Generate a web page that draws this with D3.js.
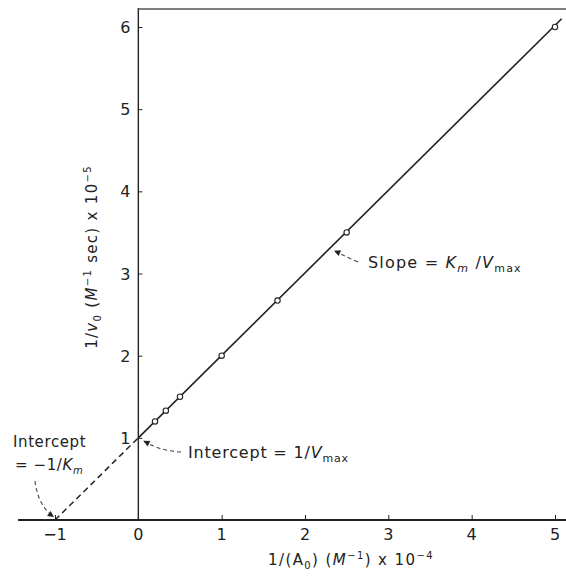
<!DOCTYPE html>
<html><head><meta charset="utf-8">
<script src="https://cdn.jsdelivr.net/npm/d3@7"></script>
<style>
body{margin:0;background:#fff;}
svg text{font-family:"DejaVu Sans","Liberation Sans",sans-serif;fill:#222;}
</style></head>
<body><svg id="c" width="566" height="579"></svg>
<script>
const xs = [0.2, 0.33, 0.5, 1.0, 1.67, 2.5, 5.0];
const ys = [1.2, 1.33, 1.5, 2.0, 2.67, 3.5, 6.0];
const xTicks = [-1, 0, 1, 2, 3, 4, 5];
const yTicks = [1, 2, 3, 4, 5, 6];
const fitLine = [[0, 1], [5.08, 6.1]];
const extrap = [[-1, 0], [0, 1]];

const svg = d3.select("#c");
const x = d3.scaleLinear().domain([-1, 5]).range([55, 555]);
const y = d3.scaleLinear().domain([0, 6]).range([520, 27]);
const ink = "#222";

// x axis line
svg.append("line").attr("x1", 18).attr("x2", 566).attr("y1", y(0)).attr("y2", y(0)).attr("stroke", ink).attr("stroke-width", 1.8);
// y axis line
svg.append("line").attr("x1", x(0)).attr("x2", x(0)).attr("y1", y(0)).attr("y2", 8).attr("stroke", ink).attr("stroke-width", 1.4);
// top frame
svg.append("line").attr("x1", x(0)).attr("x2", 566).attr("y1", 9).attr("y2", 9).attr("stroke", "#555").attr("stroke-width", 1.4);

// x ticks (inward)
const xa = svg.append("g").attr("transform", `translate(0,${y(0)})`)
  .call(d3.axisTop(x).tickValues(xTicks.filter(d => d !== 0)).tickSize(5).tickFormat(""));
xa.select(".domain").remove();
xa.selectAll("line").attr("stroke", ink);
svg.selectAll(".xl").data(xTicks).join("text").attr("class", "xl")
  .attr("x", d => x(d)).attr("y", y(0) + 20).attr("text-anchor", "middle")
  .attr("font-size", 16).text(d => d < 0 ? "\u2212" + Math.abs(d) : d);

// y ticks (inward)
const ya = svg.append("g").attr("transform", `translate(${x(0)},0)`)
  .call(d3.axisRight(y).tickValues(yTicks).tickSize(4).tickFormat(""));
ya.select(".domain").remove();
ya.selectAll("line").attr("stroke", ink);
svg.selectAll(".yl").data(yTicks).join("text").attr("class", "yl")
  .attr("x", x(0) - 8).attr("y", d => y(d) + 6).attr("text-anchor", "end")
  .attr("font-size", 16).text(d => d);

// lines
const ln = d3.line().x(d => x(d[0])).y(d => y(d[1]));
svg.append("path").attr("d", ln(fitLine)).attr("stroke", ink).attr("stroke-width", 1.6).attr("fill", "none");
svg.append("path").attr("d", ln(extrap)).attr("stroke", ink).attr("stroke-width", 1.5).attr("stroke-dasharray", "6,4").attr("fill", "none");

// points
svg.selectAll(".pt").data(xs.map((d, i) => [d, ys[i]])).join("circle").attr("class", "pt")
  .attr("cx", d => x(d[0])).attr("cy", d => y(d[1])).attr("r", 2.7)
  .attr("fill", "#fff").attr("stroke", ink).attr("stroke-width", 1.1);

// axis titles
const yt = svg.append("text").attr("transform", `translate(97,257) rotate(-90)`).attr("text-anchor", "middle").attr("font-size", 15).attr("letter-spacing", 1.3);
yt.append("tspan").text("1/");
yt.append("tspan").attr("font-style", "italic").text("v");
yt.append("tspan").attr("font-size", 10).attr("dy", 4).text("0");
yt.append("tspan").attr("dy", -4).text(" (");
yt.append("tspan").attr("font-style", "italic").text("M");
yt.append("tspan").attr("font-size", 10).attr("dy", -6).text("\u22121");
yt.append("tspan").attr("dy", 6).text(" sec) x 10");
yt.append("tspan").attr("font-size", 10).attr("dy", -6).text("\u22125");

const xt = svg.append("text").attr("x", 351).attr("y", 565).attr("text-anchor", "middle").attr("font-size", 15).attr("letter-spacing", 1.4);
xt.append("tspan").text("1/(A");
xt.append("tspan").attr("font-size", 10).attr("dy", 4).text("0");
xt.append("tspan").attr("dy", -4).text(") (");
xt.append("tspan").attr("font-style", "italic").text("M");
xt.append("tspan").attr("font-size", 10).attr("dy", -6).text("\u22121");
xt.append("tspan").attr("dy", 6).text(") x 10");
xt.append("tspan").attr("font-size", 10).attr("dy", -6).text("\u22124");

// annotations
function arrow(path, tip, dir) {
  svg.append("path").attr("d", path).attr("stroke", "#444").attr("stroke-width", 1.1).attr("stroke-dasharray", "4,3").attr("fill", "none");
  const a = Math.atan2(dir[1], dir[0]);
  const L = 7, w = 0.45;
  const p1 = [tip[0] - L * Math.cos(a - w), tip[1] - L * Math.sin(a - w)];
  const p2 = [tip[0] - L * Math.cos(a + w), tip[1] - L * Math.sin(a + w)];
  svg.append("path").attr("d", `M${p1}L${tip}L${p2}Z`).attr("fill", "#222");
}
svg.append("text").attr("x", 13).attr("y", 447).attr("font-size", 15).attr("letter-spacing", 0.6).text("Intercept");
const a2 = svg.append("text").attr("x", 15).attr("y", 470).attr("font-size", 15).attr("letter-spacing", 0.6);
a2.append("tspan").text("= \u22121/");
a2.append("tspan").attr("font-style", "italic").text("K");
a2.append("tspan").attr("font-style", "italic").attr("font-size", 10).attr("dy", 4).text("m");
arrow(`M35,481 Q38,506 ${x(-1) - 1},${y(0) - 3}`, [x(-1) - 1, y(0) - 3], [1, 0.7]);

const b = svg.append("text").attr("x", 188).attr("y", 458).attr("font-size", 16).attr("letter-spacing", 0.8);
b.append("tspan").text("Intercept = 1/");
b.append("tspan").attr("font-style", "italic").text("V");
b.append("tspan").attr("font-size", 11).attr("dy", 4).text("max");
arrow(`M181,452 Q160,451 ${x(0) + 5},${y(1) + 3}`, [x(0) + 5, y(1) + 3], [-1, -0.5]);

const c = svg.append("text").attr("x", 368).attr("y", 268).attr("font-size", 16).attr("letter-spacing", 1.2);
c.append("tspan").text("Slope = ");
c.append("tspan").attr("font-style", "italic").text("K");
c.append("tspan").attr("font-style", "italic").attr("font-size", 11).attr("dy", 4).text("m");
c.append("tspan").attr("dy", -4).text(" /");
c.append("tspan").attr("font-style", "italic").text("V");
c.append("tspan").attr("font-size", 11).attr("dy", 4).text("max");
arrow(`M358,262 Q345,256 ${x(2.3) + 4},${y(3.3) + 2}`, [x(2.3) + 4, y(3.3) + 2], [-1, -0.4]);
</script></body></html>
